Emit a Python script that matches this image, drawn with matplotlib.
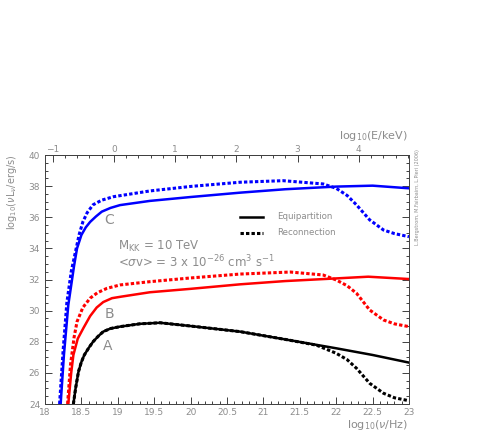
import numpy as np
import matplotlib
matplotlib.use("Agg")
import matplotlib.pyplot as plt
from matplotlib.ticker import MultipleLocator, AutoMinorLocator, FormatStrFormatter

plt.rcParams["font.family"] = ["DejaVu Sans"]
plt.rcParams["mathtext.fontset"] = "dejavusans"

# ---------- Data ----------
# log10(nu/Hz) and log10(nu L_nu / erg/s)
c_eq_nu = [18.215, 18.26, 18.32, 18.40, 18.44, 18.50, 18.56, 18.62, 18.70, 18.78,
           18.90, 19.03, 19.44, 20.0, 20.68, 21.3, 22.0, 22.5, 23.0]
c_eq_L = [24.0, 27.15, 30.36, 32.9, 34.0, 34.86, 35.35, 35.7, 36.05, 36.36,
          36.6, 36.78, 37.05, 37.3, 37.58, 37.8, 37.97, 38.03, 37.86]

c_rec_nu = [18.20, 18.25, 18.30, 18.36, 18.41, 18.47, 18.52, 18.58, 18.66, 18.78,
            18.94, 19.44, 20.0, 20.68, 21.27, 21.82, 22.0, 22.15, 22.28, 22.46,
            22.65, 22.8, 23.0]
c_rec_L = [24.0, 27.5, 30.5, 32.5, 33.6, 34.9, 35.7, 36.3, 36.8, 37.1,
           37.32, 37.69, 37.98, 38.25, 38.35, 38.14, 37.86, 37.4, 36.79, 35.83,
           35.18, 34.95, 34.75]

b_eq_nu = [18.32, 18.36, 18.39, 18.45, 18.53, 18.62, 18.71, 18.80, 18.92, 19.05,
           19.44, 20.0, 20.68, 21.3, 22.0, 22.44, 23.0]
b_eq_L = [24.0, 26.0, 27.15, 28.2, 28.9, 29.65, 30.2, 30.55, 30.8, 30.9,
          31.18, 31.4, 31.69, 31.9, 32.07, 32.18, 32.03]

b_rec_nu = [18.31, 18.35, 18.40, 18.44, 18.52, 18.62, 18.72, 18.85, 19.03, 19.44,
            20.0, 20.68, 21.37, 21.82, 22.0, 22.15, 22.28, 22.46, 22.65, 22.8, 23.0]
b_rec_L = [24.0, 26.5, 28.3, 29.29, 30.2, 30.8, 31.15, 31.43, 31.65, 31.86,
           32.1, 32.35, 32.48, 32.29, 31.97, 31.6, 31.11, 30.04, 29.4, 29.15, 28.97]

a_eq_nu = [18.39, 18.42, 18.46, 18.50, 18.54, 18.60, 18.66, 18.73, 18.80, 18.90,
           19.03, 19.3, 19.58, 20.0, 20.68, 21.3, 22.0, 22.5, 23.0]
a_eq_L = [24.0, 25.0, 26.08, 26.7, 27.15, 27.6, 28.0, 28.35, 28.65, 28.85,
          28.97, 29.15, 29.22, 29.01, 28.65, 28.15, 27.58, 27.15, 26.66]

a_rec_nu = [18.39, 18.42, 18.46, 18.50, 18.54, 18.60, 18.66, 18.73, 18.80, 18.90,
            19.03, 19.3, 19.58, 20.0, 20.68, 21.3, 21.73, 22.0, 22.15, 22.28,
            22.46, 22.65, 22.8, 23.0]
a_rec_L = [24.0, 25.0, 26.08, 26.7, 27.15, 27.6, 28.0, 28.35, 28.65, 28.85,
           28.97, 29.15, 29.22, 29.01, 28.65, 28.15, 27.78, 27.26, 26.85, 26.29,
           25.33, 24.69, 24.4, 24.21]

# top axis: log10(E/keV) tick positions mapped onto log10(nu)
e_ticks = [-1, 0, 1, 2, 3, 4]
e_labels = ["\u22121", "0", "1", "2", "3", "4"]
e_origin = 18.106   # nu where log10(E/keV) = -1
e_step = 0.841      # nu per decade of E

GREY = "#8c8c8c"
DASH = (0, (1.1, 0.7))

fig = plt.figure(figsize=(4.91, 4.36), dpi=100)
ax = fig.add_axes([45 / 491, 32 / 436, 364 / 491, 249 / 436])

ax.plot(c_rec_nu, c_rec_L, color="#0000ff", lw=2.2, ls=DASH)
ax.plot(c_eq_nu, c_eq_L, color="#0000ff", lw=1.8)
ax.plot(b_rec_nu, b_rec_L, color="#ff0000", lw=2.2, ls=DASH)
ax.plot(b_eq_nu, b_eq_L, color="#ff0000", lw=1.8)
ax.plot(a_rec_nu, a_rec_L, color="black", lw=2.2, ls=DASH)
ax.plot(a_eq_nu, a_eq_L, color="black", lw=1.8)

ax.set_xlim(18, 23)
ax.set_ylim(24, 40)
ax.xaxis.set_major_locator(MultipleLocator(0.5))
ax.xaxis.set_minor_locator(MultipleLocator(0.1))
ax.xaxis.set_major_formatter(FormatStrFormatter("%g"))
ax.yaxis.set_major_locator(MultipleLocator(2))
ax.yaxis.set_minor_locator(MultipleLocator(0.5))
ax.tick_params(which="both", direction="in", right=True, top=False,
               labelsize=6.5, labelcolor=GREY, color="#404040", width=0.7)
ax.tick_params(which="major", length=5)
ax.tick_params(which="minor", length=2.5)
ax.tick_params(axis="x", pad=3)
for s in ax.spines.values():
    s.set_linewidth(0.7)
    s.set_color("#404040")

# top axis in energy
sec = ax.secondary_xaxis(
    "top",
    functions=(lambda x: (x - e_origin) / e_step - 1,
               lambda e: e_origin + (e + 1) * e_step))
sec.set_xticks(e_ticks)
sec.set_xticklabels(e_labels)
sec.xaxis.set_minor_locator(AutoMinorLocator(5))
sec.tick_params(which="both", direction="in", labelsize=6.5, labelcolor=GREY,
                color="#404040", width=0.7, pad=1)
sec.tick_params(which="major", length=5)
sec.tick_params(which="minor", length=2.5)
sec.spines["top"].set_linewidth(0.7)
sec.spines["top"].set_color("#404040")

# axis titles at the ends of the axes
fig.text(408 / 491, 1 - 425 / 436, r"log$_{10}$($\nu$/Hz)", ha="right", va="center",
         fontsize=8, color=GREY)
fig.text(408 / 491, 1 - 136 / 436, r"log$_{10}$(E/keV)", ha="right", va="center",
         fontsize=8, color=GREY)
fig.text(12 / 491, 1 - 192 / 436, r"log$_{10}$($\nu$L$_{\nu}$/erg/s)", ha="center",
         va="center", rotation=90, fontsize=7, color=GREY)
fig.text(418 / 491, 1 - 197 / 436, "L.Bergstrom, M.Fairbairn, L.Pieri (2006)",
         ha="center", va="center", rotation=90, fontsize=3.5, color=GREY)

# curve labels
for lab, x, y in [("C", 18.88, 35.8), ("B", 18.88, 29.8), ("A", 18.86, 27.75)]:
    ax.text(x, y, lab, fontsize=10, color=GREY, ha="center", va="center")

ax.text(19.0, 34.15, r"M$_{\rm KK}$ = 10 TeV", fontsize=8.5, color=GREY,
        ha="left", va="center")
ax.text(19.0, 33.1, r"<$\sigma$v> = 3 x 10$^{-26}$ cm$^3$ s$^{-1}$", fontsize=8.5,
        color=GREY, ha="left", va="center")

# legend drawn by hand
ax.plot([20.68, 21.0], [36.02, 36.02], color="black", lw=1.8)
ax.plot([20.68, 21.0], [35.0, 35.0], color="black", lw=2.2, ls=DASH)
ax.text(21.19, 36.02, "Equipartition", fontsize=6.2, color=GREY, va="center")
ax.text(21.19, 35.0, "Reconnection", fontsize=6.2, color=GREY, va="center")

fig.savefig("out.png", dpi=100)
